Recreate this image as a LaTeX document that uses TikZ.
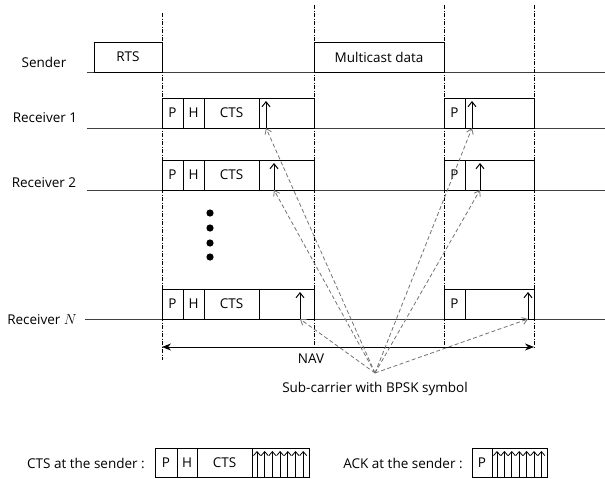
\documentclass[tikz,border=0pt]{standalone}
\usepackage{fontspec}
\setmainfont{Open Sans}
\usetikzlibrary{arrows.meta}
\begin{document}
\begin{tikzpicture}[x=1pt,y=-1pt,
  lbl/.style={font=\fontsize{13.5}{16}\selectfont, inner sep=0pt},
  cell/.style={draw=black, line width=1pt, inner sep=0pt, font=\fontsize{13.5}{16}\selectfont, minimum height=30pt},
  timeline/.style={draw=black!75, line width=0.8pt},
  boundary/.style={draw=black, line width=0.8pt, dash pattern=on 4pt off 1.5pt on 1pt off 1.5pt},
  sym/.style={draw=black, line width=1pt, -{Straight Barb[length=5pt,width=8pt]}},
  ray/.style={draw=black!55, line width=0.8pt, dash pattern=on 4pt off 2.5pt, -{Straight Barb[length=5pt,width=7pt]}},
  navarr/.style={draw=black, line width=0.9pt, {Stealth[length=9pt,width=7pt]}-{Stealth[length=9pt,width=7pt]}}
]
\useasboundingbox (0,0) rectangle (605,479);

% timelines
\draw[timeline] (87,72) -- (605,72);
\draw[timeline] (87,128) -- (605,128);
\draw[timeline] (87,190) -- (605,190);
\draw[timeline] (85,319) -- (605,319);

% labels
\node[lbl] (lsend) at (44,62) {Sender};
\node[lbl] (lr1) at (45,118) {Receiver 1};
\node[lbl] (lr2) at (44,183) {Receiver 2};
\node[lbl] (lrn) at (42,320) {Receiver $N$};

% sender frames
\node[cell, minimum width=68pt] (rts) at (128,57) {RTS};
\node[cell, minimum width=130pt] (mcd) at (379,57) {Multicast data};

% receiver 1
\node[cell, minimum width=21pt] (r1p) at (172.5,113) {P};
\node[cell, minimum width=21pt] (r1h) at (193.5,113) {H};
\node[cell, minimum width=55pt] (r1c) at (231.5,113) {CTS};
\node[cell, minimum width=55pt] (r1s) at (286.5,113) {};
\node[cell, minimum width=21pt] (a1p) at (454.5,113) {P};
\node[cell, minimum width=69pt] (a1s) at (499.5,113) {};
% receiver 2
\node[cell, minimum width=21pt] (r2p) at (172.5,175) {P};
\node[cell, minimum width=21pt] (r2h) at (193.5,175) {H};
\node[cell, minimum width=55pt] (r2c) at (231.5,175) {CTS};
\node[cell, minimum width=55pt] (r2s) at (286.5,175) {};
\node[cell, minimum width=21pt] (a2p) at (454.5,175) {P};
\node[cell, minimum width=69pt] (a2s) at (499.5,175) {};
% receiver N
\node[cell, minimum width=21pt] (rnp) at (172.5,304) {P};
\node[cell, minimum width=21pt] (rnh) at (193.5,304) {H};
\node[cell, minimum width=55pt] (rnc) at (231.5,304) {CTS};
\node[cell, minimum width=55pt] (rns) at (286.5,304) {};
\node[cell, minimum width=21pt] (anp) at (454.5,304) {P};
\node[cell, minimum width=69pt] (ans) at (499.5,304) {};

% boundaries
\draw[boundary] (162,13) -- (162,360);
\draw[boundary] (314,5) -- (314,347);
\draw[boundary] (444,5) -- (444,348);
\draw[boundary] (534,5) -- (534,348);

% symbol feet
\coordinate (f1) at (266,128);
\coordinate (f2) at (274,190);
\coordinate (f3) at (300,319);
\coordinate (g1) at (472,128);
\coordinate (g2) at (480,190);
\coordinate (g3) at (528,319);
\foreach \c in {f1,f2,f3,g1,g2,g3} \draw[sym] (\c) -- ++(0,-27);

% dots
\foreach \yy in {213,228,243,257} \fill (210,\yy) circle (3.6);

% NAV
\coordinate (navL) at (162,347);
\coordinate (navR) at (534,347);
\draw[navarr] (navL) -- (navR);
\node[lbl] (nav) at (311,359) {NAV};

% rays
\coordinate (src) at (375,373);
\foreach \c in {f1,f2,f3,g1,g2,g3} \draw[ray] (src) -- (\c);
\node[lbl] (sub) at (375,389) {Sub-carrier with BPSK symbol};

% legend
\node[lbl] (lcts) at (86,463) {CTS at the sender :};
\node[cell, minimum width=22pt, minimum height=29pt] (cp) at (166,462.5) {P};
\node[cell, minimum width=20pt, minimum height=29pt] (ch) at (187,462.5) {H};
\node[cell, minimum width=55pt, minimum height=29pt] (cc) at (224.5,462.5) {CTS};
\node[cell, minimum width=57pt, minimum height=29pt] (cs) at (280.5,462.5) {};
\foreach \i in {0,...,6} \draw[sym, line width=0.8pt, -{Straight Barb[length=4pt,width=7pt]}] (257+7.7*\i,477) -- (257+7.7*\i,451);

\node[lbl] (lack) at (403,463) {ACK at the sender :};
\node[cell, minimum width=20pt, minimum height=29pt] (ap) at (482,462.5) {P};
\node[cell, minimum width=55pt, minimum height=29pt] (as) at (519.5,462.5) {};
\foreach \i in {0,...,6} \draw[sym, line width=0.8pt, -{Straight Barb[length=4pt,width=7pt]}] (497+7.4*\i,477) -- (497+7.4*\i,451);
\end{tikzpicture}
\end{document}
